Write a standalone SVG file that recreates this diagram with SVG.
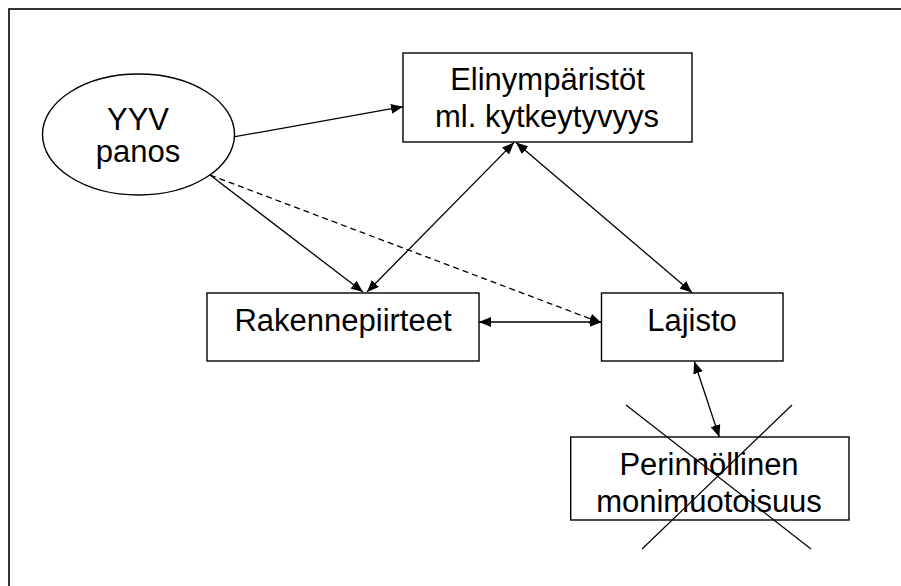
<svg xmlns="http://www.w3.org/2000/svg" width="901" height="586" viewBox="0 0 901 586">
<style>
.frame{fill:none;stroke:#000;stroke-width:1.6}
.box{fill:#fff;stroke:#000;stroke-width:1.4}
.lbl{font-family:"Liberation Sans",Arial,sans-serif;font-size:31px;fill:#000;text-anchor:middle}
.conn{fill:none;stroke:#000;stroke-width:1.3}
.dash{stroke-dasharray:6 4}
.cross{stroke:#000;stroke-width:1.2}
</style>
<defs>
<marker id="ah" viewBox="0 0 12 10" refX="12" refY="5" markerWidth="12" markerHeight="10" markerUnits="userSpaceOnUse" orient="auto-start-reverse">
<path d="M0,0 L12,5 L0,10 z" fill="#000"/>
</marker>
</defs>
<rect width="901" height="586" fill="#fff"/>
<rect class="frame" x="9" y="9" width="910" height="600"/>

<g id="node-yyv">
<ellipse class="box" cx="138.5" cy="134.5" rx="96" ry="60.5"/>
<text class="lbl" x="138" y="130">YYV</text>
<text class="lbl" x="138" y="162">panos</text>
</g>

<g id="node-elinymparistot">
<rect class="box" x="403" y="53" width="289" height="89"/>
<text class="lbl" x="547.5" y="90">Elinympäristöt</text>
<text class="lbl" x="547" y="127">ml. kytkeytyvyys</text>
</g>

<g id="node-rakennepiirteet">
<rect class="box" x="207" y="293" width="272" height="68"/>
<text class="lbl" x="343" y="331">Rakennepiirteet</text>
</g>

<g id="node-lajisto">
<rect class="box" x="601.5" y="293" width="181.5" height="68"/>
<text class="lbl" x="692" y="331">Lajisto</text>
</g>

<g id="node-perinnollinen">
<rect class="box" x="570.7" y="437" width="278.3" height="83"/>
<text class="lbl" x="709" y="475">Perinnöllinen</text>
<text class="lbl" x="709" y="512">monimuotoisuus</text>
<line class="cross" x1="626" y1="405" x2="811" y2="549"/>
<line class="cross" x1="792" y1="405" x2="642" y2="549"/>
</g>

<g id="connectors">
<line class="conn" x1="235" y1="136.7" x2="403" y2="106.7" marker-end="url(#ah)"/>
<line class="conn" x1="210" y1="175" x2="363" y2="292" marker-end="url(#ah)"/>
<line class="conn dash" x1="210" y1="175" x2="601.5" y2="323" marker-end="url(#ah)"/>
<line class="conn" x1="367" y1="292" x2="514" y2="142.5" marker-start="url(#ah)" marker-end="url(#ah)"/>
<line class="conn" x1="516" y1="142.5" x2="692" y2="292.5" marker-start="url(#ah)" marker-end="url(#ah)"/>
<line class="conn" x1="479" y1="322" x2="601.5" y2="322" marker-start="url(#ah)" marker-end="url(#ah)"/>
<line class="conn" x1="694.3" y1="361.5" x2="719.3" y2="437" marker-start="url(#ah)" marker-end="url(#ah)"/>
</g>
</svg>
